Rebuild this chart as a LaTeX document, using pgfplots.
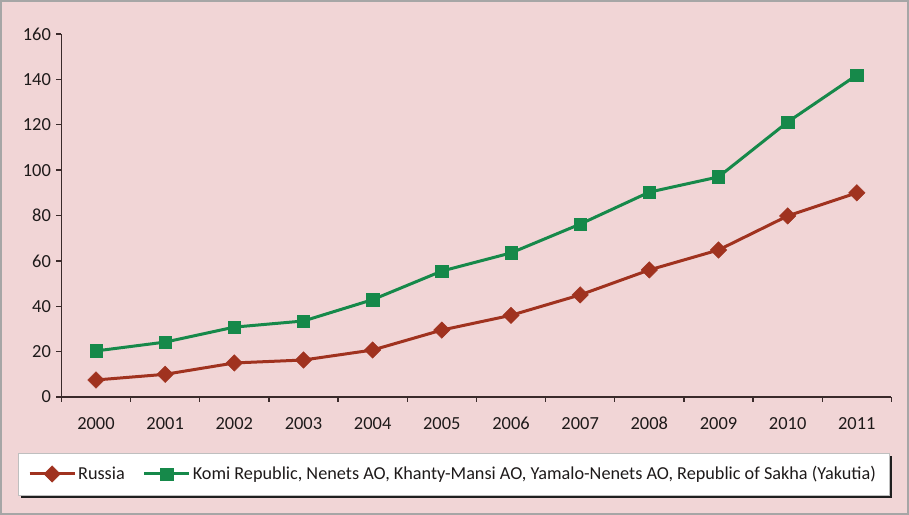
\documentclass[border=0pt]{standalone}
\usepackage{pgfplots}
\pgfplotsset{compat=1.18}
\usepackage{fontspec}
\setmainfont{Carlito}
\definecolor{bgpink}{HTML}{F1D5D6}
\definecolor{rusred}{HTML}{A0321F}
\definecolor{komigreen}{HTML}{16894A}
\definecolor{axisdark}{HTML}{3A2A2A}
\definecolor{txt}{HTML}{1E1A1A}
\begin{document}
\begin{tikzpicture}[x=1bp,y=1bp]
\fill[bgpink] (0,0) rectangle (909,515);
\draw[gray!70, line width=2bp] (1,1) rectangle (908,514);
\fill[black!88] (21,17) rectangle (892,59);
\filldraw[fill=white, draw=gray!50] (18,20) rectangle (889,62);
\begin{axis}[
  at={(61.4bp,118bp)}, anchor=south west,
  scale only axis, width=830bp, height=363bp,
  xmin=-0.5, xmax=11.5, ymin=0, ymax=160,
  axis x line*=bottom, axis y line*=left,
  axis line style={axisdark, line width=1.5bp},
  xtick={-0.5,0.5,...,11.5},
  xticklabels={2000,2001,2002,2003,2004,2005,2006,2007,2008,2009,2010,2011},
  x tick label as interval,
  ytick={0,20,...,160},
  tick align=outside, major tick length=5bp,
  tick style={axisdark, line width=1.3bp},
  tick label style={font=\fontsize{18.5}{22}\selectfont, text=txt},
  /pgf/number format/assume math mode=true,
  xticklabel style={text height=13bp, text depth=0bp, yshift=-11bp},
  yticklabel style={xshift=-2bp},
  clip=false,
  legend style={draw=none, fill=none, at={(0.4718,-0.212)}, anchor=center,
    font=\fontsize{18.3}{22}\selectfont, text=txt,
    /tikz/every even column/.append style={column sep=16bp}},
  legend columns=2,
  legend cell align=left,
  legend image code/.code={\draw[mark repeat=2,mark phase=2,#1] plot coordinates {(0bp,0bp)(22.5bp,0bp)(45bp,0bp)};},
]
\addplot[rusred, line width=3bp, mark=square*, mark size=5.8bp, mark options={rotate=45, solid, fill=rusred, draw=rusred, line width=0.5bp}]
coordinates {(0,7.5)(1,10)(2,15)(3,16.3)(4,20.7)(5,29.5)(6,36)(7,45)(8,56)(9,64.8)(10,79.8)(11,90)};
\addlegendentry{Russia}
\addplot[komigreen, line width=3bp, mark=square*, mark size=6.2bp, mark options={solid, fill=komigreen, draw=komigreen, line width=0.5bp}]
coordinates {(0,20.3)(1,24.2)(2,30.8)(3,33.5)(4,42.9)(5,55.5)(6,63.5)(7,76.2)(8,90.3)(9,97)(10,121.2)(11,141.9)};
\addlegendentry{Komi Republic, Nenets AO, Khanty-Mansi AO, Yamalo-Nenets AO, Republic of Sakha (Yakutia)}
\end{axis}
\end{tikzpicture}
\end{document}
